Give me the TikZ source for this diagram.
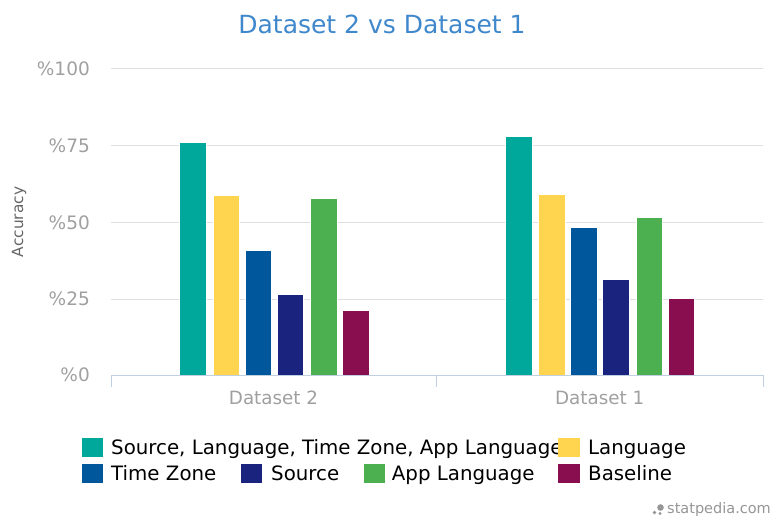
\documentclass[tikz,border=0pt]{standalone}
\usepackage{fontspec}
\setmainfont{DejaVu Sans}
\definecolor{ctitle}{RGB}{64,136,204}
\definecolor{cgrid}{RGB}{224,224,224}
\definecolor{caxis}{RGB}{192,208,224}
\definecolor{clab}{RGB}{160,160,160}
\definecolor{cytitle}{RGB}{102,102,102}
\definecolor{cteal}{RGB}{0,168,156}
\definecolor{cyellow}{RGB}{255,213,79}
\definecolor{cblue}{RGB}{1,87,155}
\definecolor{cnavy}{RGB}{26,35,126}
\definecolor{cgreen}{RGB}{76,175,80}
\definecolor{cmaroon}{RGB}{136,14,79}
\definecolor{clogo}{RGB}{150,150,150}
\tikzset{
  ticklab/.style={anchor=east, inner sep=0pt, text=clab, font=\fontsize{18.5}{20}\selectfont},
  catlab/.style={anchor=base, inner sep=0pt, text=clab, font=\fontsize{18.3}{20}\selectfont},
  legtext/.style={anchor=base west, inner sep=0pt, text=black, font=\fontsize{19.8}{21}\selectfont},
  barstyle/.style={draw=white, line width=0.6pt},
  gridline/.style={draw=cgrid, line width=1pt},
  axisline/.style={draw=caxis, line width=1pt},
}
\begin{document}
\begin{tikzpicture}[x=1pt,y=-1pt]
\useasboundingbox (0,0) rectangle (772,520);
\fill[white] (0,0) rectangle (772,520);
% title
\node[anchor=base, inner sep=0pt, text=ctitle, font=\fontsize{25}{28}\selectfont] (title) at (382,33.3) {Dataset 2 vs Dataset 1};
% grid
\foreach \yy in {68.3,145.3,222.3,299}{
  \draw[gridline] (111,\yy) -- (763,\yy);
}
% y labels
\node[ticklab] (y100) at (90,68.3) {\%100};
\node[ticklab] (y75) at (90,145.3) {\%75};
\node[ticklab] (y50) at (90,222.3) {\%50};
\node[ticklab] (y25) at (90,299) {\%25};
\node[ticklab] (y0) at (90,375) {\%0};
\node[rotate=90, inner sep=0pt, text=cytitle, font=\fontsize{15.4}{17}\selectfont] (ytitle) at (19,222) {Accuracy};
% bars group 1
\filldraw[barstyle, fill=cteal]   (179.3,375) rectangle (206.3,142);
\filldraw[barstyle, fill=cyellow] (213,375) rectangle (239.7,195.7);
\filldraw[barstyle, fill=cblue]   (245,375) rectangle (271.7,250);
\filldraw[barstyle, fill=cnavy]   (277,375) rectangle (303.7,294.3);
\filldraw[barstyle, fill=cgreen]  (310.3,375) rectangle (337,198);
\filldraw[barstyle, fill=cmaroon] (342.3,375) rectangle (369,310.3);
% bars group 2
\filldraw[barstyle, fill=cteal]   (505.3,375) rectangle (532,136.7);
\filldraw[barstyle, fill=cyellow] (538.7,375) rectangle (565.3,194);
\filldraw[barstyle, fill=cblue]   (570.7,375) rectangle (597.3,227.7);
\filldraw[barstyle, fill=cnavy]   (602.3,375) rectangle (629.3,279.7);
\filldraw[barstyle, fill=cgreen]  (636.3,375) rectangle (662.7,217);
\filldraw[barstyle, fill=cmaroon] (668.3,375) rectangle (694.7,298.3);
% x axis
\coordinate (a0) at (111,375);
\coordinate (a1) at (436.3,375);
\coordinate (a2) at (763,375);
\coordinate (t0) at (111,387.3);
\coordinate (t1) at (436.3,387.3);
\coordinate (t2) at (763,387.3);
\draw[axisline] (a0) -- (a2);
\draw[axisline] (a0) -- (t0);
\draw[axisline] (a1) -- (t1);
\draw[axisline] (a2) -- (t2);
\node[catlab] (cat1) at (273.5,404) {Dataset 2};
\node[catlab] (cat2) at (599.7,404) {Dataset 1};
% legend
\node[legtext] (l1) at (111,454.5) {Source, Language, Time Zone, App Language};
\fill[cteal]   (82,437.5) rectangle (103,457);
\fill[cyellow] (558.3,437.5) rectangle (579.5,457);
\node[legtext] (l2) at (588,454.5) {Language};
\fill[cblue]   (82,463.5) rectangle (103,483);
\node[legtext] (l3) at (111,480.5) {Time Zone};
\fill[cnavy]   (241,463.5) rectangle (262,483);
\node[legtext] (l4) at (271,480.5) {Source};
\fill[cgreen]  (364,463.5) rectangle (385.3,483);
\node[legtext] (l5) at (391.7,480.5) {App Language};
\fill[cmaroon] (558.3,463.5) rectangle (579.5,483);
\node[legtext] (l6) at (588,480.5) {Baseline};
% logo
\fill[clogo] (660.5,507.5) circle (3.3);
\fill[clogo] (654.5,512.5) circle (1.8);
\fill[clogo] (660,513.5) circle (1.6);
\node[anchor=base west, inner sep=0pt, text=clogo, font=\fontsize{14.5}{16}\selectfont] (logo) at (667,513.5) {statpedia.com};
\end{tikzpicture}
\end{document}
